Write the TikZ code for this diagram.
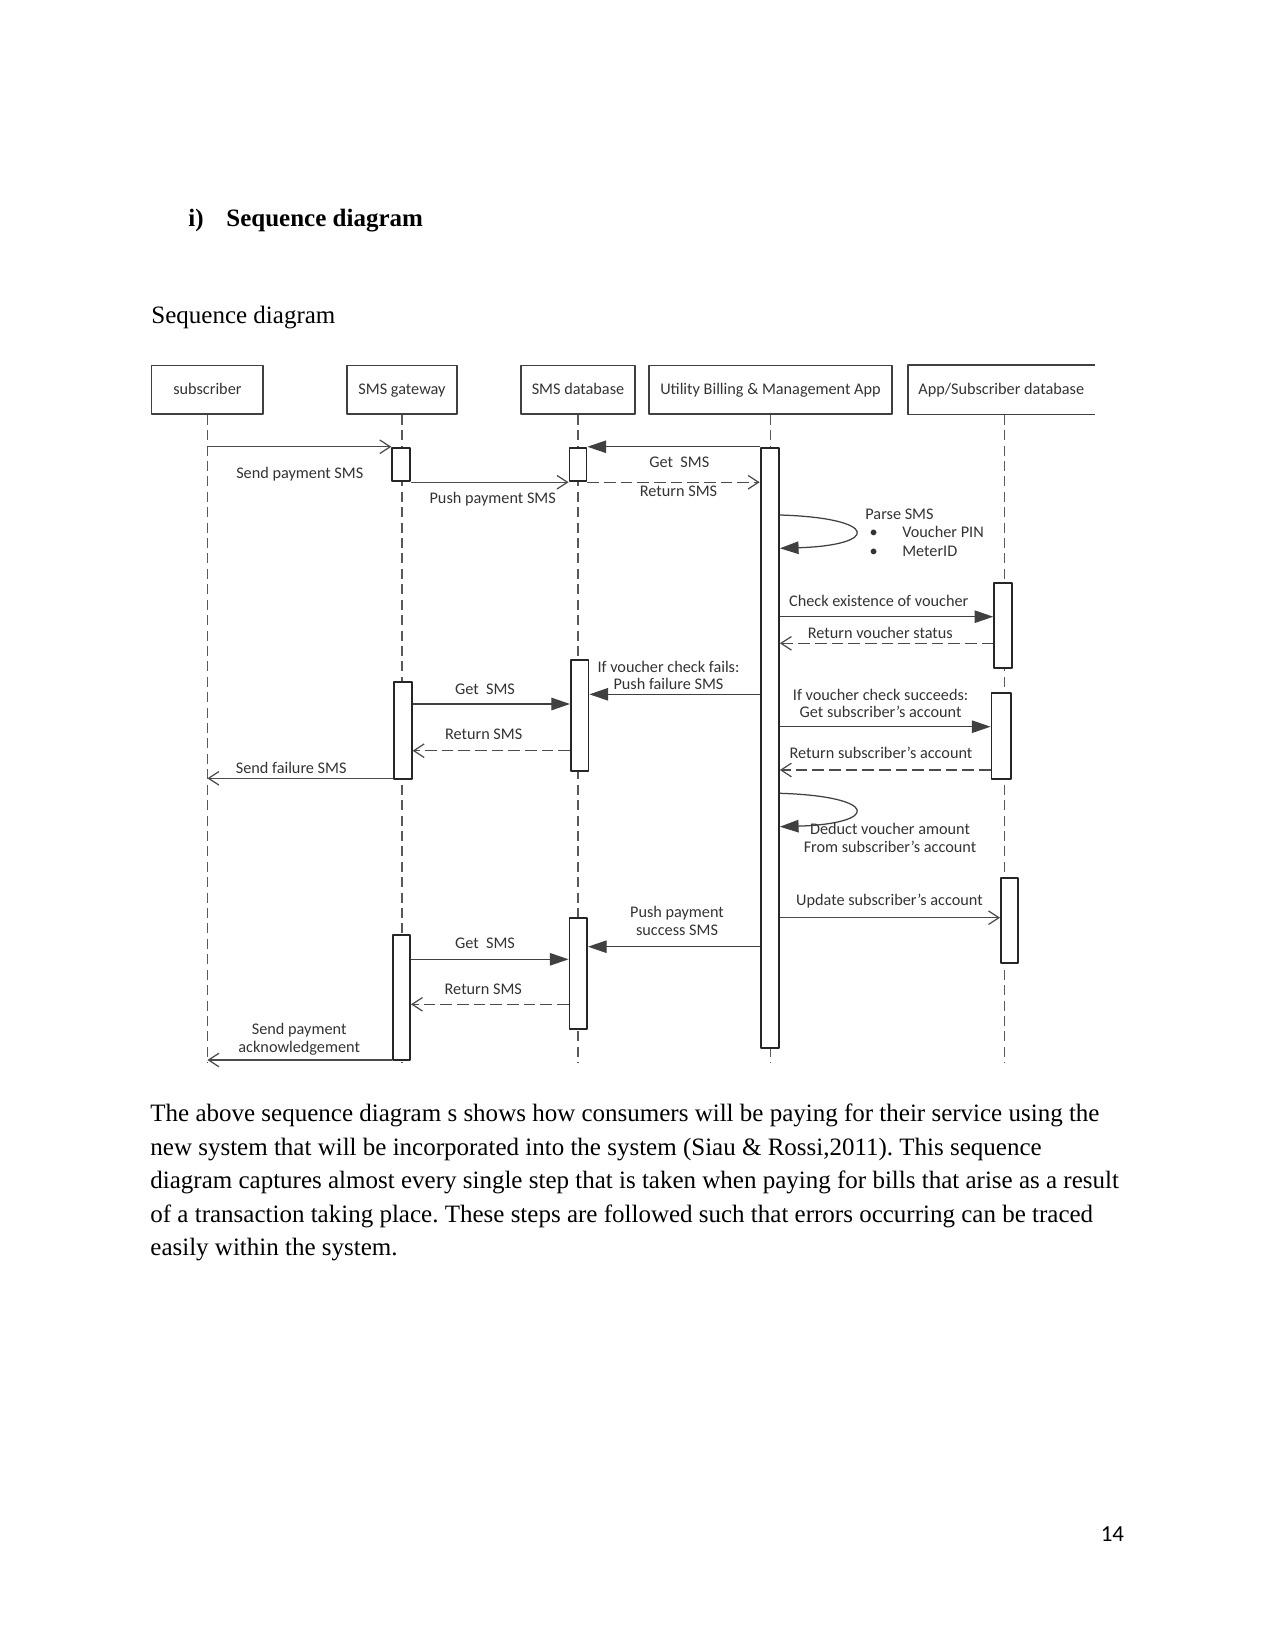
\documentclass[tikz,border=0pt]{standalone}
\usepackage{fontspec}
\setmainfont{Liberation Serif}
\newfontfamily\diafont{Carlito}
\usetikzlibrary{arrows.meta,fit}
\tikzset{
  every picture/.style={line join=round},
  body/.style={anchor=base west, inner sep=0pt, font=\fontsize{12}{14}\selectfont\frenchspacing},
  part/.style={draw=black!75, line width=0.7pt, inner sep=0pt},
  partname/.style={inner sep=0pt, text height=5pt, text depth=0pt, text=black!80,
    font=\diafont\fontsize{7.8}{8.5}\selectfont},
  act/.style={draw=black!85, fill=white, line width=0.9pt, inner sep=0pt},
  life/.style={draw=black!65, line width=0.6pt, dash pattern=on 4.8pt off 2.6pt},
  callmsg/.style={draw=black!75, line width=0.6pt, -{Triangle[length=9pt,width=6pt]}},
  sendmsg/.style={draw=black!70, line width=0.6pt, -{Straight Barb[length=5pt,width=6.5pt]}},
  retmsg/.style={sendmsg, dash pattern=on 5.6pt off 2.4pt},
  lbl/.style={anchor=mid, inner sep=0pt, text=black!80, align=center,
    font=\diafont\fontsize{7.8}{8.5}\selectfont},
  lbltwo/.style={lbl, anchor=center},
}
\begin{document}
\begin{tikzpicture}[x=0.48pt,y=-0.48pt]
\useasboundingbox (0,0) rectangle (1275,1651);
% page text
\node[body, font=\fontsize{12}{14}\selectfont\bfseries] (hnum) at (188,227) {i)};
\node[body, font=\fontsize{12}{14}\selectfont\bfseries] (head) at (226,227) {Sequence diagram};
\node[body] (cap) at (151,323) {Sequence diagram};
\foreach \n/\y/\t in {1/1121.7/{The above sequence diagram s shows how consumers will be paying for their service using the},
  2/1155.2/{new system that will be incorporated into the system (Siau \& Rossi,2011). This sequence},
  3/1188.7/{diagram captures almost every single step that is taken when paying for bills that arise as a result},
  4/1222.2/{of a transaction taking place. These steps are followed such that errors occurring can be traced},
  5/1255.7/{easily within the system.}}{
  \node[body] (par\n) at (150,\y) {\t};
}
\node[anchor=base east, inner sep=0pt, font=\diafont\fontsize{11}{13}\selectfont] (pnum) at (1124.5,1541) {14};

% participants
\node[part, fit={(151.6,365.5) (263.2,414)}, label={[partname]center:subscriber}] (sub) {};
\node[part, fit={(347,365.5) (457,414)}, label={[partname]center:SMS gateway}] (gw) {};
\node[part, fit={(521,365.5) (635,414)}, label={[partname]center:SMS database}] (sdb) {};
\node[part, fit={(649,365.5) (892,414)}, label={[partname]center:Utility Billing \& Management App}] (ua) {};
\node[part, draw=none, fit={(908.5,365.5) (1094,414)}, label={[partname]center:App/Subscriber database}] (adb) {};
\draw[part] (adb.north east) -- (adb.north west) -- (adb.south west) -- (adb.south east);

% lifelines
\coordinate (bot) at (0,1063);
\foreach \p in {sub,gw,sdb,ua}{\draw[life] (\p.south) -- (\p.south |- bot);}
\draw[life] ([xshift=1.5pt]adb.south) -- ([xshift=1.5pt]adb.south |- bot);

% activation bars
\foreach \n/\xa/\ya/\xb/\yb in {gw1/392.3/447.7/410/481.3, sdb1/569.5/447.7/586.5/481.3,
  uab/760.6/447.7/778.9/1047.7, adb1/994.2/583.3/1011.8/668, sdb2/571/660/588.5/771,
  adb2/991.5/693.3/1010.7/779, gw2/394/681.7/411.7/779, adb3/1001/877.7/1018.4/963.3,
  sdb3/569.5/917.7/587/1029.3, gw3/392.7/935/410/1060}{
  \node[act, fit={(\xa,\ya) (\xb,\yb)}] (\n) {};
}

% message levels
\foreach \n/\y in {parseA/515, parseB/548.3, check/616.7, vstat/643.3, fail/694.3,
  get2/704, ret2/750.7, sfail/778.3, acct/726.7, racct/770, dedA/793.3, dedB/826.7,
  upd/917.7, succ/946.7, get3/959.3, ret3/1004.3, ack/1060}{
  \coordinate (\n) at (0,\y);
}

% messages
\draw[sendmsg] (sub.south |- gw1.north) -- (gw1.north west);
\draw[sendmsg] (gw1.south east) -- (sdb1.south west);
\draw[callmsg] (uab.north west) -- (sdb1.north east);
\draw[retmsg] (sdb1.south east) -- (uab.west |- sdb1.south);
\draw[callmsg] (uab.east |- parseA) .. controls +(100,3) and +(100,-3) .. (uab.east |- parseB);
\draw[callmsg] (uab.east |- check) -- (adb1.west |- check);
\draw[retmsg] (adb1.west |- vstat) -- (uab.east |- vstat);
\draw[callmsg] (uab.west |- fail) -- (sdb2.east |- fail);
\draw[callmsg] (gw2.east |- get2) -- (sdb2.west |- get2);
\draw[retmsg] (sdb2.west |- ret2) -- (gw2.east |- ret2);
\draw[sendmsg] (gw2.west |- sfail) -- (sub.south |- sfail);
\draw[callmsg] (uab.east |- acct) -- (adb2.west |- acct);
\draw[retmsg] (adb2.west |- racct) -- (uab.east |- racct);
\draw[callmsg] (uab.east |- dedA) .. controls +(100,3) and +(100,-3) .. (uab.east |- dedB);
\draw[sendmsg] (uab.east |- upd) -- (adb3.west |- upd);
\draw[callmsg] (uab.west |- succ) -- (sdb3.east |- succ);
\draw[callmsg] (gw3.east |- get3) -- (sdb3.west |- get3);
\draw[retmsg] (sdb3.west |- ret3) -- (gw3.east |- ret3);
\draw[sendmsg] (gw3.west |- ack) -- (sub.south |- ack);

% labels
\node[lbl] (lSend) at (299.8,473.3) {Send payment SMS};
\node[lbl] (lPush) at (492.7,499) {Push payment SMS};
\node[lbl] (lGet1) at (679.3,462.7) {Get\ \ SMS};
\node[lbl] (lRet1) at (678.5,491.7) {Return SMS};
\node[lbl, anchor=west, align=left] (lParse) at (865,532.5)
  {Parse SMS\\[0.3pt]\hspace*{2pt}\makebox[15.7pt][l]{\textbullet}Voucher PIN\\[0.3pt]\hspace*{2pt}\makebox[15.7pt][l]{\textbullet}MeterID};
\node[lbl] (lCheck) at (878.7,601.7) {Check existence of voucher};
\node[lbl] (lStat) at (880.3,634) {Return voucher status};
\node[lbltwo] (lFail) at (668.5,675.5) {If voucher check fails:\\Push failure SMS};
\node[lbl] (lGet2) at (485,690) {Get\ \ SMS};
\node[lbl] (lRet2) at (483.7,734.3) {Return SMS};
\node[lbl] (lSFail) at (291.2,769) {Send failure SMS};
\node[lbltwo] (lOk) at (880.6,703.3) {If voucher check succeeds:\\Get subscriber’s account};
\node[lbl] (lRAcct) at (881,753.3) {Return subscriber’s account};
\node[lbltwo] (lDed) at (890,838) {Deduct voucher amount\\From subscriber’s account};
\node[lbl] (lUpd) at (889.4,900.7) {Update subscriber’s account};
\node[lbltwo] (lSucc) at (677,921.2) {Push payment\\success SMS};
\node[lbl] (lGet3) at (485,944) {Get\ \ SMS};
\node[lbl] (lRet3) at (483.3,989.3) {Return SMS};
\node[lbltwo] (lAck) at (299.2,1039.2) {Send payment\\acknowledgement};
\end{tikzpicture}
\end{document}
